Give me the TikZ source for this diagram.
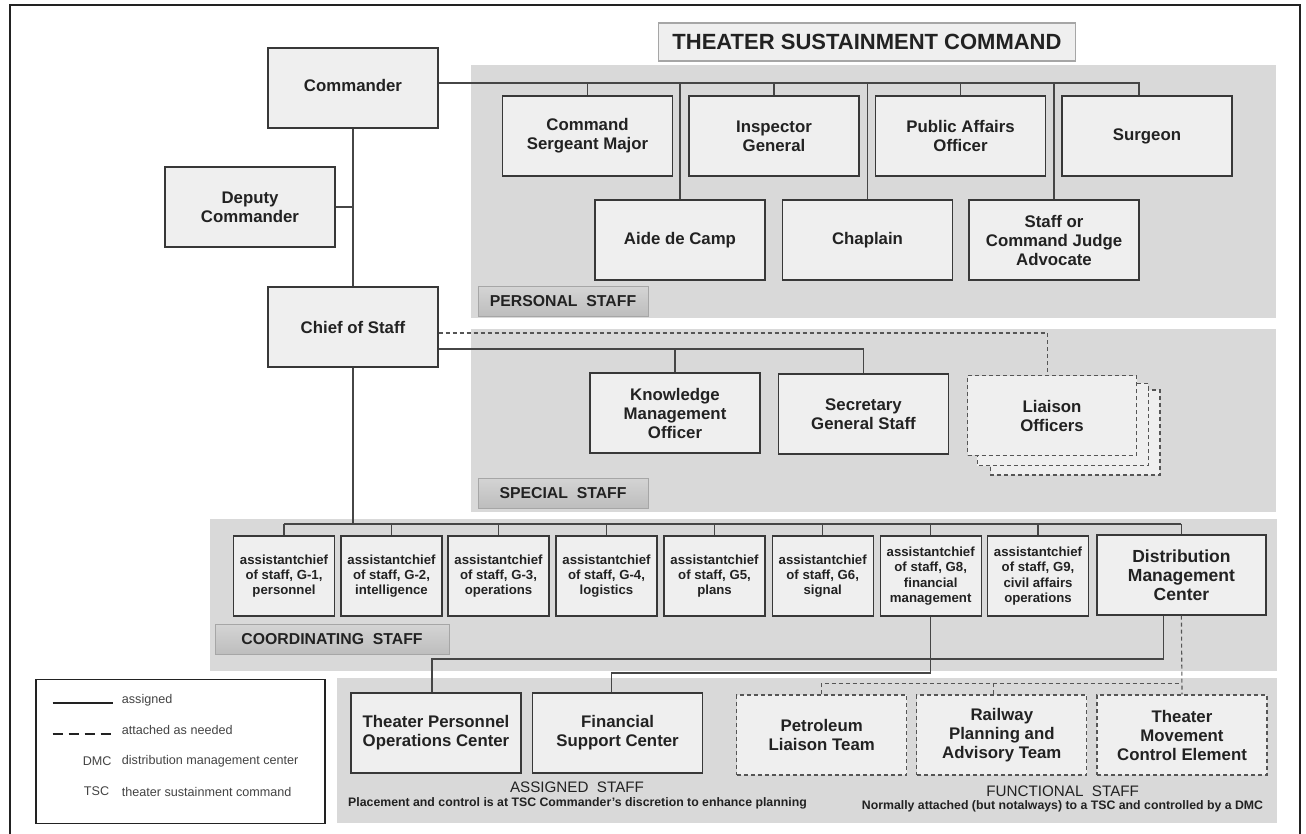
\documentclass[tikz,border=0pt]{standalone}
\usepackage{fontspec}
\setmainfont{Liberation Sans}
\usetikzlibrary{calc}

\definecolor{panel}{HTML}{D9D9D9}
\definecolor{boxfill}{HTML}{EFEFEF}
\definecolor{boxline}{HTML}{383838}
\definecolor{connc}{HTML}{464646}
\definecolor{dashc}{HTML}{555555}
\definecolor{inkc}{HTML}{222222}
\definecolor{tagtop}{HTML}{D4D4D4}
\definecolor{tagbot}{HTML}{BDBDBD}
\definecolor{tagline}{HTML}{A6A6A6}

\tikzset{
  orgbox/.style={draw=boxline, fill=boxfill, line width=1.2pt, minimum width=170pt,
    minimum height=80pt, align=center, inner sep=2pt, text=inkc,
    font=\bfseries\fontsize{16.8}{19}\selectfont},
  dashorg/.style={orgbox, draw=dashc, dash pattern=on 4pt off 3pt},
  gbox/.style={orgbox, minimum width=101pt, font=\bfseries\fontsize{13.2}{15.3}\selectfont},
  tag/.style={draw=tagline, top color=tagtop, bottom color=tagbot, line width=0.8pt,
    minimum height=30pt, inner sep=2pt, text=inkc, font=\bfseries\fontsize{15.8}{18}\selectfont},
  conn/.style={draw=connc, line width=1.3pt},
  dashconn/.style={draw=dashc, line width=1.1pt, dash pattern=on 4pt off 3pt},
  legtext/.style={text=inkc!85, inner sep=0pt, font=\fontsize{12.6}{14}\selectfont},
  groupname/.style={text=inkc, inner sep=0pt, font=\fontsize{15.2}{17}\selectfont},
  groupnote/.style={text=inkc, inner sep=0pt, font=\bfseries\fontsize{12.3}{14}\selectfont},
}

\begin{document}
\begin{tikzpicture}[x=1pt,y=-1pt]
\useasboundingbox (0,0) rectangle (1306,834);

% outer frame (open at the bottom edge)
\draw[line width=2pt, color=inkc] (10,840) -- (10,5) -- (1300,5) -- (1300,840);

% staff group panels
\fill[panel] (470.5,65) rectangle (1275.5,318);
\fill[panel] (471,329) rectangle (1276,511.5);
\fill[panel] (209.5,519) rectangle (1277,670.5);
\fill[panel] (337,678) rectangle (1276.5,823);

% title
\node[draw=tagline, fill=boxfill, line width=1.4pt, minimum width=417pt, minimum height=38pt,
      text=inkc, font=\bfseries\fontsize{22}{24}\selectfont] (title) at (867,42)
      {THEATER SUSTAINMENT COMMAND};

% command group
\node[orgbox] (cmd) at (353,88) {\raisebox{6pt}{Commander}};
\node[orgbox] (dep) at (250,207) {Deputy\\Commander};
\node[orgbox] (cos) at (353,327) {Chief of Staff};

% personal staff
\node[orgbox] (csm)  at (587.5,136) {Command\\Sergeant Major};
\node[orgbox] (ig)   at (774,136)   {Inspector\\General};
\node[orgbox] (pao)  at (960.5,136) {Public Affairs\\Officer};
\node[orgbox] (sur)  at (1147,136)  {Surgeon};
\node[orgbox] (aide) at (680,240)   {Aide de Camp};
\node[orgbox] (chap) at (867.5,240) {Chaplain};
\node[orgbox] (sja)  at (1054,240)  {Staff or\\Command Judge\\Advocate};
\node[tag, minimum width=170pt] (perstag) at (563,301.5) {PERSONAL\ \ STAFF};

% special staff
\node[orgbox] (kmo) at (675,413)   {Knowledge\\Management\\Officer};
\node[orgbox] (sec) at (863.5,414) {Secretary\\General Staff};
\draw[dashorg] (990.7,390) rectangle (1160,475);
\draw[dashorg, fill=boxfill] (977.3,383.3) rectangle (1148.3,465.7);
\node[dashorg, minimum width=169pt, minimum height=79.5pt] (lia) at (1052,415.5) {Liaison\\Officers};
\node[tag, minimum width=170pt] (spectag) at (563,493) {SPECIAL\ \ STAFF};

% coordinating staff
\node[gbox] (g1) at (284,576)   {assistantchief\\of staff, G-1,\\personnel};
\node[gbox] (g2) at (391.5,576) {assistantchief\\of staff, G-2,\\intelligence};
\node[gbox] (g3) at (498.5,576) {assistantchief\\of staff, G-3,\\operations};
\node[gbox] (g4) at (606.5,576) {assistantchief\\of staff, G-4,\\logistics};
\node[gbox] (g5) at (714.5,576) {assistantchief\\of staff, G5,\\plans};
\node[gbox] (g6) at (822.7,576) {assistantchief\\of staff, G6,\\signal};
\node[gbox] (g8) at (930.7,576) {assistantchief\\of staff, G8,\\financial\\management};
\node[gbox] (g9) at (1038,576)  {assistantchief\\of staff, G9,\\civil affairs\\operations};
\node[orgbox, minimum width=169pt, font=\bfseries\fontsize{17.5}{19}\selectfont] (dmc) at (1181.4,575)
      {Distribution\\Management\\Center};
\node[tag, minimum width=234pt] (coordtag) at (332,639.5) {COORDINATING\ \ STAFF};

% assigned and functional staff
\node[orgbox] (tpoc) at (436,733)   {Theater Personnel\\Operations Center};
\node[orgbox] (fsc)  at (617.6,733) {Financial\\Support Center};
\node[dashorg] (plt)  at (821.7,735)  {Petroleum\\Liaison Team};
\node[dashorg] (rpat) at (1001.8,735) {Railway\\Planning and\\Advisory Team};
\node[dashorg] (tmce) at (1182,735)   {Theater\\Movement\\Control Element};

\node[groupname] (asgname) at (577,787) {ASSIGNED\ \ STAFF};
\node[groupnote] (asgnote) at (577.5,803)
      {Placement and control is at TSC Commander's discretion to enhance planning};
\node[groupname] (fnname) at (1062.7,791.5) {FUNCTIONAL\ \ STAFF};
\node[groupnote] (fnnote) at (1062.5,806)
      {Normally attached (but notalways) to a TSC and controlled by a DMC};

% bus lines
\coordinate (pbus) at (0,83);
\coordinate (sbusd) at (0,333);
\coordinate (sbus) at (0,349);
\coordinate (cbus) at (0,524);
\coordinate (dbus) at (0,659);
\coordinate (fbus) at (0,673);
\coordinate (tbus) at (0,683.3);

% command line
\draw[conn] (cmd.south) -- (cos.north);
\draw[conn] (dep.east) -- (dep.east -| cmd.south);

% personal staff connectors
\draw[conn] (cmd.east |- pbus) -| ([xshift=-8pt]sur.north);
\foreach \n in {csm,ig,pao,aide,chap,sja}
  \draw[conn] (\n.north) -- (\n.north |- pbus);

% special staff connectors
\draw[dashconn] (cos.east |- sbusd) -| ([xshift=-4.5pt]lia.north);
\draw[conn] (cos.east |- sbus) -| (sec.north);
\draw[conn] (kmo.north) -- (kmo.north |- sbus);

% coordinating staff connectors
\draw[conn] (cos.south) -- (cos.south |- cbus);
\draw[conn] (g1.north |- cbus) -- (dmc.north |- cbus);
\foreach \n in {g1,g2,g3,g4,g5,g6,g8,g9,dmc}
  \draw[conn] (\n.north) -- (\n.north |- cbus);

% assigned staff connectors
\draw[conn] ([xshift=-18pt]dmc.south) -- ([xshift=-18pt]dmc.south |- dbus) -| ([xshift=-4pt]tpoc.north);
\draw[conn] (g8.south) -- (g8.south |- fbus) -| ([xshift=-6pt]fsc.north);

% functional staff connectors
\draw[dashconn] (dmc.south) -- (tmce.north);
\draw[dashconn] (plt.north) -- (plt.north |- tbus) -- (dmc.south |- tbus);
\draw[dashconn] ([xshift=-8pt]rpat.north) -- ([xshift=-8pt]rpat.north |- tbus);

% legend
\draw[line width=1.8pt, color=inkc] (36,679.5) rectangle (325,823.5);
\node[legtext, anchor=west] (lg1) at (121.7,700) {assigned};
\node[legtext, anchor=west] (lg2) at (121.7,730) {attached as needed};
\node[legtext, anchor=west] (lg3) at (121.7,761) {distribution management center};
\node[legtext, anchor=west] (lg4) at (121.7,791.5) {theater sustainment command};
\node[legtext, anchor=east] (lk3) at (111.7,761) {DMC};
\node[legtext, anchor=east] (lk4) at (109.3,791.5) {TSC};
\coordinate (ls1) at (52.7,703.3);
\coordinate (ls2) at (52.7,734.3);
\draw[line width=2pt, color=inkc] (ls1) -- (ls1 -| 113,0);
\draw[line width=2pt, color=inkc, dash pattern=on 10pt off 6pt] (ls2) -- (ls2 -| 111,0);
\end{tikzpicture}
\end{document}
